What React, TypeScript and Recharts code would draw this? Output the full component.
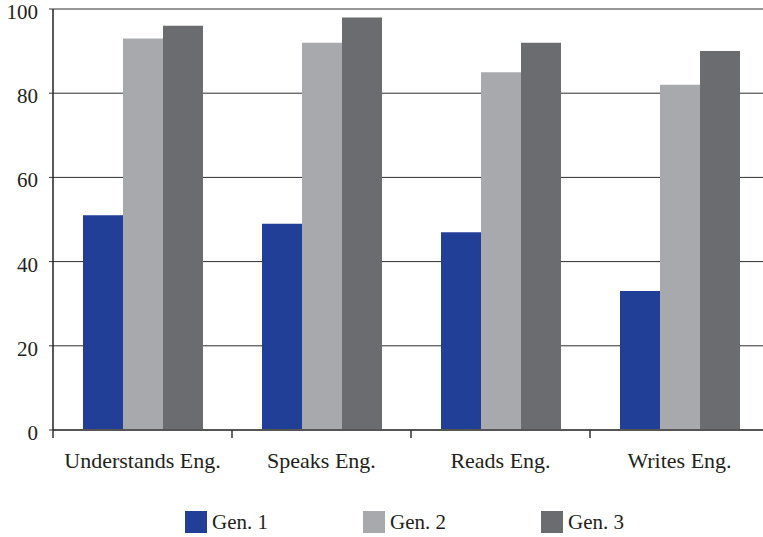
import React from "react";
import { BarChart, Bar, XAxis, YAxis, CartesianGrid, Legend } from "recharts";

const categories = ["Understands Eng.", "Speaks Eng.", "Reads Eng.", "Writes Eng."];
const gen1 = [51, 49, 47, 33];
const gen2 = [93, 92, 85, 82];
const gen3 = [96, 98, 92, 90];
const yTicks = [0, 20, 40, 60, 80, 100];
const seriesNames = ["Gen. 1", "Gen. 2", "Gen. 3"];
const seriesColors = ["#223F97", "#A8A9AD", "#6B6C70"];

const data = categories.map((c, i) => ({ name: c, g1: gen1[i], g2: gen2[i], g3: gen3[i] }));

const W = 770;
const H = 537;
const LEFT = 53;
const RIGHT = 1;
const HALF_BAND = (W - LEFT - RIGHT) / categories.length / 2;
const FONT = "'Liberation Serif', 'Times New Roman', serif";
const TEXT = "#231F20";

const XTick = (props: any) => {
  const { x, y, payload } = props;
  return (
    <g>
      <line x1={x - HALF_BAND} x2={x - HALF_BAND} y1={y - 8} y2={y} stroke="#333" strokeWidth={1.5} />
      <text x={x} y={y + 30} textAnchor="middle" fill={TEXT} fontSize={22} fontFamily={FONT}>
        {payload.value}
      </text>
    </g>
  );
};

const YTick = (props: any) => {
  const { x, y, payload } = props;
  return (
    <text x={x} y={y + 10} textAnchor="end" fill={TEXT} fontSize={21} fontFamily={FONT}>
      {payload.value}
    </text>
  );
};

const LegendContent = () => (
  <div style={{ position: "relative", width: W, height: 37 }}>
    {seriesNames.map((n, i) => (
      <div
        key={n}
        style={{
          position: "absolute",
          left: 185 + i * 178,
          top: 11,
          display: "flex",
          alignItems: "center",
          height: 22,
        }}
      >
        <div style={{ width: 22, height: 22, background: seriesColors[i] }} />
        <span style={{ marginLeft: 5, fontFamily: FONT, fontSize: 21, color: TEXT, lineHeight: "22px" }}>{n}</span>
      </div>
    ))}
  </div>
);

export default function App() {
  return (
    <div style={{ position: "absolute", left: 0, top: 0, width: 763, height: 537, overflow: "hidden", background: "#fff" }}>
      <BarChart
        width={W}
        height={H}
        data={data}
        margin={{ top: 9, right: RIGHT, left: 0, bottom: 0 }}
        barGap={0}
        barSize={40}
      >
        <CartesianGrid vertical={false} stroke="#2E2E2E" strokeWidth={1} />
        <XAxis
          dataKey="name"
          height={70}
          tickSize={8}
          tickMargin={0}
          tickLine={false}
          axisLine={{ stroke: "#555", strokeWidth: 2 }}
          tick={<XTick />}
          interval={0}
        />
        <YAxis
          width={LEFT}
          domain={[0, 100]}
          ticks={yTicks}
          tickSize={4}
          tickMargin={11}
          tickLine={{ stroke: "#333" }}
          axisLine={{ stroke: "#222", strokeWidth: 1.5 }}
          tick={<YTick />}
        />
        <Legend verticalAlign="bottom" wrapperStyle={{ left: 0, width: W, height: 37 }} content={<LegendContent />} />
        <Bar dataKey="g1" name={seriesNames[0]} fill={seriesColors[0]} isAnimationActive={false} />
        <Bar dataKey="g2" name={seriesNames[1]} fill={seriesColors[1]} isAnimationActive={false} />
        <Bar dataKey="g3" name={seriesNames[2]} fill={seriesColors[2]} isAnimationActive={false} />
      </BarChart>
    </div>
  );
}
